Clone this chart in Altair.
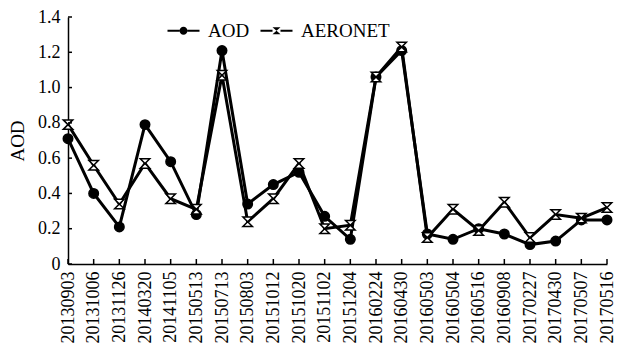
import altair as alt
import pandas as pd

dates = ["20130903", "20131006", "20131126", "20140320", "20141105", "20150513",
         "20150713", "20150803", "20151012", "20151020", "20151102", "20151204",
         "20160224", "20160430", "20160503", "20160504", "20160516", "20160908",
         "20170227", "20170430", "20170507", "20170516"]
aod = [0.71, 0.40, 0.21, 0.79, 0.58, 0.28, 1.21, 0.34, 0.45, 0.52, 0.27, 0.14,
       1.06, 1.21, 0.17, 0.14, 0.20, 0.17, 0.11, 0.13, 0.25, 0.25]
aeronet = [0.79, 0.56, 0.34, 0.57, 0.37, 0.31, 1.07, 0.24, 0.37, 0.57, 0.20, 0.22,
           1.06, 1.23, 0.15, 0.31, 0.19, 0.35, 0.15, 0.28, 0.26, 0.32]
series_names = ["AOD", "AERONET"]
y_ticks = [0, 0.2, 0.4, 0.6, 0.8, 1.0, 1.2, 1.4]

rows = []
for name, vals in zip(series_names, [aod, aeronet]):
    for d, v in zip(dates, vals):
        rows.append({"date": d, "value": v, "series": name})
df = pd.DataFrame(rows)
xt = pd.DataFrame({"date": dates})
yt = pd.DataFrame({"value": y_ticks})

FONT = "Liberation Serif"
H = 247
HOURGLASS = "M-1,-1H1L-1,1H1Z"
# legend symbols: short filled bars on either side of the marker
BARS = "M-1,-0.06H-0.25V0.06H-1ZM0.25,-0.06H1V0.06H0.25Z"
LEG_AOD = BARS + "M-0.25,0A0.25,0.25 0 1,1 0.25,0A0.25,0.25 0 1,1 -0.25,0Z"
LEG_AER = BARS + "M-0.25,-0.22H0.25L-0.25,0.22H0.25Z"

x_scale = alt.Scale(type="point", padding=0)
y_scale = alt.Scale(domain=[0, 1.4], nice=False, zero=True)

x_enc = alt.X("date:N", sort=dates, scale=x_scale,
              axis=alt.Axis(title=None, labelAngle=-90, labelFont=FONT, labelFontSize=18,
                            labelColor="black", domainColor="black",
                            ticks=False, domainWidth=1.5, labelPadding=7))
y_enc = alt.Y("value:Q", scale=y_scale,
              axis=alt.Axis(title="AOD", values=y_ticks, grid=False, labelOverlap=False,
                            labelExpr="datum.value == 0 ? '0' : format(datum.value, '.1f')",
                            labelFont=FONT, labelFontSize=18, labelColor="black",
                            titleFont=FONT, titleFontSize=19, titleFontWeight="normal",
                            titleColor="black", titlePadding=10,
                            domainColor="black", ticks=False,
                            domainWidth=1.5, labelPadding=8))

lines = alt.Chart(df).mark_line(color="black", strokeWidth=3).encode(
    x=x_enc, y=y_enc, detail="series:N")

points = alt.Chart(df).mark_point(filled=False, strokeWidth=1.5, stroke="black", opacity=1, size=90).encode(
    x=x_enc, y=y_enc,
    shape=alt.Shape("series:N", scale=alt.Scale(domain=series_names, range=["circle", HOURGLASS]),
                    legend=None),
    fill=alt.Fill("series:N", scale=alt.Scale(domain=series_names, range=["black", "white"]),
                  legend=None),
)

legend_layer = alt.Chart(df).mark_point(filled=False, fill="black", stroke="black",
                                        opacity=0, strokeWidth=1).encode(
    x=x_enc, y=y_enc,
    shape=alt.Shape("series:N", scale=alt.Scale(domain=series_names, range=[LEG_AOD, LEG_AER]),
                    legend=alt.Legend(
                        orient="none", legendX=99, legendY=-3, direction="horizontal",
                        title=None, symbolSize=1024, labelFont=FONT, labelFontSize=19,
                        labelColor="black", labelOffset=8, columnPadding=8,
                        symbolOpacity=1, symbolFillColor="black", symbolStrokeColor="black",
                        symbolStrokeWidth=1)),
)

x_ticks_layer = alt.Chart(xt).mark_rule(color="black", strokeWidth=1.5).encode(
    x=x_enc, y=alt.value(H), y2=alt.value(H - 5))
y_ticks_layer = alt.Chart(yt).mark_rule(color="black", strokeWidth=1.5).encode(
    y=y_enc, x=alt.value(0), x2=alt.value(4))

chart = alt.layer(lines, points, legend_layer, x_ticks_layer, y_ticks_layer).resolve_scale(
    shape="independent", fill="independent"
).properties(
    width=539, height=H,
    autosize=alt.AutoSizeParams(type="none"),
    padding={"left": 60, "top": 9, "right": 10, "bottom": 81},
    background="white",
).configure_view(stroke=None)

chart.save("out.html", embed_options={"renderer": "svg", "actions": False})
